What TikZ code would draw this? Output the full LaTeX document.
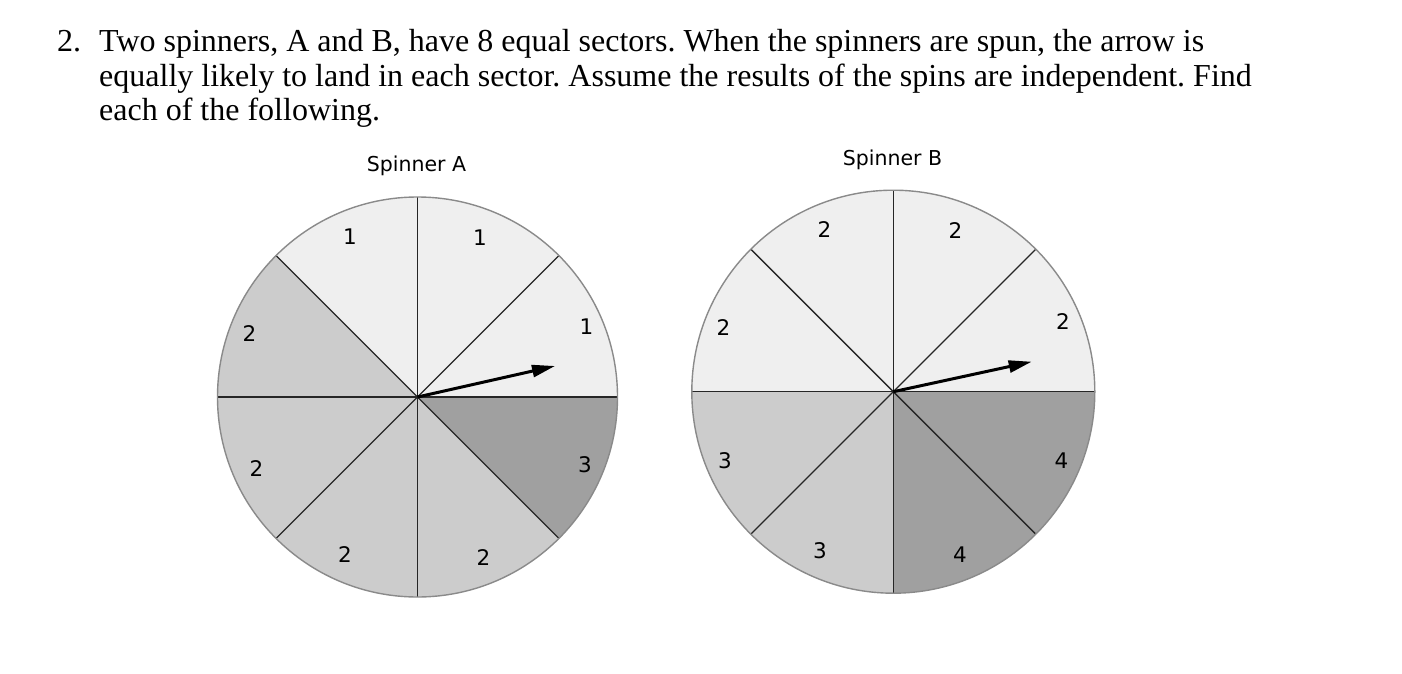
\documentclass[tikz,border=0pt]{standalone}
\usepackage{fontspec}
\setmainfont{Liberation Serif}
\newfontfamily\spinfont{DejaVu Sans}
\usetikzlibrary{arrows.meta}
\definecolor{seclight}{HTML}{EFEFEF}
\definecolor{secmid}{HTML}{CCCCCC}
\definecolor{secdark}{HTML}{A0A0A0}
\definecolor{rimgray}{HTML}{8A8A8A}
\newcommand\spinsec[4]{\fill[#4] (#1) -- ++(#2:#3) arc[start angle=#2, end angle=#2+45, radius=#3] -- cycle;}
\frenchspacing
\begin{document}
\begin{tikzpicture}[x=1pt,y=-1pt,
  qline/.style={anchor=base west, inner sep=0pt, font=\fontsize{32}{36}\selectfont},
  title/.style={anchor=base, inner sep=0pt, font=\spinfont\fontsize{20.5}{24}\selectfont},
  num/.style={inner sep=0pt, font=\spinfont\fontsize{21.5}{24}\selectfont},
  spoke/.style={draw=black!85, line width=1.3pt},
  rim/.style={draw=rimgray, line width=1.4pt},
  pointer/.style={line width=3pt, -{Triangle[length=23pt,width=12pt]}}]
\useasboundingbox[fill=white] (0,0) rectangle (1402,674);

% question text
\node[qline] (qn) at (57,51.7) {2.};
\node[qline] (q1) at (99,51.7) {Two spinners, A and B, have 8 equal sectors. When the spinners are spun, the arrow is};
\node[qline] (q2) at (99,86.5) {equally likely to land in each sector. Assume the results of the spins are independent. Find};
\node[qline] (q3) at (99,121) {each of the following.};

% ---------- Spinner A ----------
\coordinate (cA) at (417.5,397);
\node[title] (tA) at (416.5,171.5) {Spinner A};
\spinsec{cA}{0}{200pt}{seclight}
\spinsec{cA}{45}{200pt}{seclight}
\spinsec{cA}{90}{200pt}{seclight}
\spinsec{cA}{135}{200pt}{secmid}
\spinsec{cA}{180}{200pt}{secmid}
\spinsec{cA}{225}{200pt}{secmid}
\spinsec{cA}{270}{200pt}{secmid}
\spinsec{cA}{315}{200pt}{secdark}
\foreach \a in {0,45,...,315} {\draw[spoke] (cA) -- ++(\a:200pt);}
\draw[rim] (cA) circle[radius=200pt];
\node[num] (a1) at (350,237) {1};
\node[num] (a2) at (480,238) {1};
\node[num] (a3) at (586.5,327) {1};
\node[num] (a4) at (585,465) {3};
\node[num] (a5) at (483.5,558) {2};
\node[num] (a6) at (345,555) {2};
\node[num] (a7) at (256.5,469) {2};
\node[num] (a8) at (249.5,334) {2};
\coordinate (pA) at (555,366);
\draw[pointer] (cA) -- (pA);

% ---------- Spinner B ----------
\coordinate (cB) at (893.3,391.7);
\node[title] (tB) at (892.5,165) {Spinner B};
\spinsec{cB}{0}{201.5pt}{seclight}
\spinsec{cB}{45}{201.5pt}{seclight}
\spinsec{cB}{90}{201.5pt}{seclight}
\spinsec{cB}{135}{201.5pt}{seclight}
\spinsec{cB}{180}{201.5pt}{secmid}
\spinsec{cB}{225}{201.5pt}{secmid}
\spinsec{cB}{270}{201.5pt}{secdark}
\spinsec{cB}{315}{201.5pt}{secdark}
\foreach \a in {0,45,...,315} {\draw[spoke] (cB) -- ++(\a:201.5pt);}
\draw[rim] (cB) circle[radius=201.5pt];
\node[num] (b1) at (824.5,230) {2};
\node[num] (b2) at (955.5,231) {2};
\node[num] (b3) at (1063,322) {2};
\node[num] (b4) at (1061.5,461) {4};
\node[num] (b5) at (960,555) {4};
\node[num] (b6) at (820,551) {3};
\node[num] (b7) at (725,461) {3};
\node[num] (b8) at (723.5,328) {2};
\coordinate (pB) at (1031.7,361.7);
\draw[pointer] (cB) -- (pB);
\end{tikzpicture}
\end{document}
